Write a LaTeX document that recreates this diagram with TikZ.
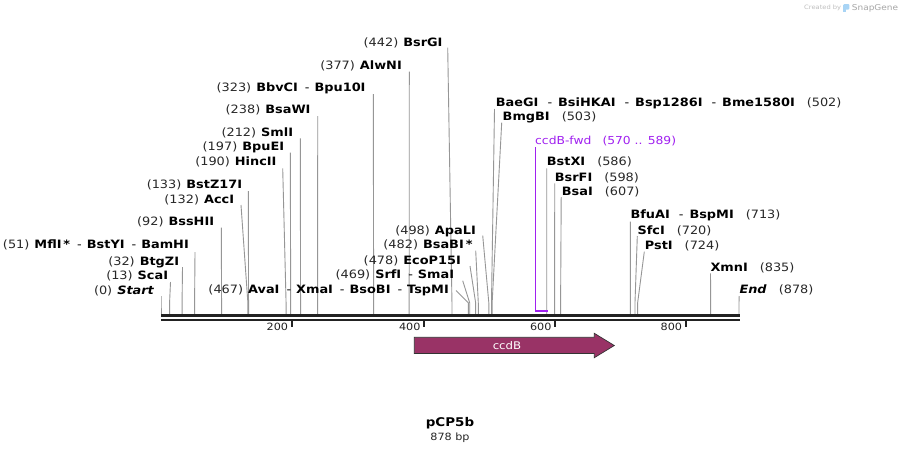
\documentclass[tikz,border=0pt]{standalone}
\usepackage{fontspec}
\setmainfont{DejaVu Sans}[FakeStretch=1.12]
\definecolor{numc}{RGB}{40,40,40}
\definecolor{cutc}{RGB}{150,150,150}
\definecolor{primc}{RGB}{160,32,240}
\definecolor{featc}{RGB}{153,51,102}
\definecolor{axisc}{RGB}{34,34,34}
\definecolor{iconc}{RGB}{168,212,245}
\newcommand{\pl}[1]{{\color{numc}(#1)}}
\newcommand{\en}[1]{\textbf{#1}}
\newcommand{\dsh}{\hspace{7pt}-\hspace{5pt}}
\newcommand{\dshw}{\hspace{9pt}-\hspace{6pt}}
\newcommand{\gapl}{\hspace{5pt}}
\newcommand{\gapr}{\hspace{12pt}}
\tikzset{
  lbl/.style={inner sep=0pt, font=\fontsize{11.5}{13}\selectfont},
  cutline/.style={draw=cutc, line width=0.9pt},
  axisline/.style={draw=axisc, line width=2.3pt},
  tickmark/.style={draw=axisc, line width=2pt},
  ticklbl/.style={inner sep=0pt, font=\fontsize{10}{12}\selectfont, text=axisc},
  primline/.style={draw=primc, line width=1pt},
  primlbl/.style={inner sep=0pt, font=\fontsize{11}{13}\selectfont, text=primc},
}
\newcommand{\cutsite}[8]{%
  \node[lbl, anchor=#2] (#1) at (#3,#4) {#5};
  \coordinate (#1s) at (#6,#7);
  \coordinate (#1k) at ({161+0.6583*#8},303);
  \coordinate (#1a) at ({161+0.6583*#8},314.3);
  \draw[cutline] (#1s) -- (#1k) -- (#1a);
}
\begin{document}
\begin{tikzpicture}[x=1pt,y=-1pt]
\fill[white] (0,0) rectangle (901,453);
\useasboundingbox (0,0) rectangle (901,453);

% left-side labels
\cutsite{start}{base east}{154.5}{294}{\pl{0}\gapl\en{\textit{Start}}}{161}{296}{0}
\cutsite{scai}{base east}{168.3}{279.3}{\pl{13}\gapl\en{ScaI}}{170.5}{282}{13}
\cutsite{btgzi}{base east}{179.3}{265}{\pl{32}\gapl\en{BtgZI}}{182.5}{267}{32}
\cutsite{bamhi}{base east}{189}{248.5}{\pl{51}\gapl\en{MflI\,*}\dsh\en{BstYI}\dsh\en{BamHI}}{195}{252}{51}
\cutsite{bsshii}{base east}{214.3}{225.7}{\pl{92}\gapl\en{BssHII}}{221.3}{227.5}{92}
\cutsite{acci}{base east}{234.3}{203.3}{\pl{132}\gapl\en{AccI}}{241}{205}{132}
\cutsite{bstz}{base east}{242.3}{188.5}{\pl{133}\gapl\en{BstZ17I}}{248.3}{191}{133}
\cutsite{hincii}{base east}{276.7}{165.7}{\pl{190}\gapl\en{HincII}}{282.7}{168.3}{190}
\cutsite{bpuei}{base east}{284.3}{150.7}{\pl{197}\gapl\en{BpuEI}}{290.3}{152.5}{197}
\cutsite{smli}{base east}{293.3}{136}{\pl{212}\gapl\en{SmlI}}{300.3}{138.3}{212}
\cutsite{bsawi}{base east}{310.7}{113.5}{\pl{238}\gapl\en{BsaWI}}{317.7}{116}{238}
\cutsite{bbvci}{base east}{365.7}{91}{\pl{323}\gapl\en{BbvCI}\dsh\en{Bpu10I}}{373.3}{94}{323}
\cutsite{alwni}{base east}{402}{69}{\pl{377}\gapl\en{AlwNI}}{409.3}{71.7}{377}
\cutsite{bsrgi}{base east}{442.7}{46}{\pl{442}\gapl\en{BsrGI}}{447.7}{47.7}{442}
\cutsite{tspmi}{base east}{449}{293.5}{\pl{467}\gapl\en{AvaI}\dsh\en{XmaI}\dsh\en{BsoBI}\dsh\en{TspMI}}{456}{290.5}{467}
\cutsite{smai}{base east}{454.3}{278.3}{\pl{469}\gapl\en{SrfI}\dsh\en{SmaI}}{462.7}{280.7}{469}
\cutsite{ecop}{base east}{461}{264}{\pl{478}\gapl\en{EcoP15I}}{470}{266}{478}
\cutsite{bsabi}{base east}{472.7}{248.3}{\pl{482}\gapl\en{BsaBI\,*}}{475.7}{250.7}{482}
\cutsite{apali}{base east}{476}{234}{\pl{498}\gapl\en{ApaLI}}{482.7}{235.5}{498}

% right-side labels
\cutsite{baegi}{base west}{495.7}{106}{\en{BaeGI}\dshw\en{BsiHKAI}\dshw\en{Bsp1286I}\dshw\en{Bme1580I}\gapr\pl{502}}{494.5}{109}{502}
\cutsite{bmgbi}{base west}{502.5}{120.7}{\en{BmgBI}\gapr\pl{503}}{501.7}{122.7}{503}
\cutsite{bstxi}{base west}{546.7}{165.3}{\en{BstXI}\gapr\pl{586}}{546.7}{168.3}{586}
\cutsite{bsrfi}{base west}{554.7}{181}{\en{BsrFI}\gapr\pl{598}}{554.7}{183.3}{598}
\cutsite{bsai}{base west}{561.7}{195}{\en{BsaI}\gapr\pl{607}}{561.2}{197}{607}
\cutsite{bfuai}{base west}{630.3}{218.3}{\en{BfuAI}\dshw\en{BspMI}\gapr\pl{713}}{630.3}{221.7}{713}
\cutsite{sfci}{base west}{637.3}{234}{\en{SfcI}\gapr\pl{720}}{637.3}{236}{720}
\cutsite{psti}{base west}{644.7}{249}{\en{PstI}\gapr\pl{724}}{644.3}{251.7}{724}
\cutsite{xmni}{base west}{710.3}{271.7}{\en{XmnI}\gapr\pl{835}}{710.5}{273.3}{835}
\cutsite{end}{base west}{739.3}{293.3}{\en{\textit{End}}\gapr\pl{878}}{739.2}{296}{878}

% primer
\node[primlbl, anchor=base west] (ccdbfwd) at (535,144) {ccdB-fwd\hspace{11pt}(570 .. 589)};
\coordinate (pfs) at (535.5,147);
\coordinate (pfb) at (535.5,310.5);
\draw[primline] (pfs) -- (pfb);
\coordinate (pbl) at (535,310.7);
\coordinate (pbr) at (548,310.7);
\draw[primc, line width=2pt] (pbl) -- (pbr);

% axis
\coordinate (ax1l) at (161,315.5);
\coordinate (ax1r) at (739.5,315.5);
\coordinate (ax2l) at (161,319.7);
\coordinate (ax2r) at (739.5,319.7);
\draw[axisline] (ax1l) -- (ax1r);
\draw[axisline] (ax2l) -- (ax2r);
\foreach \tx/\tl in {291.7/200, 424/400, 555/600, 685.7/800}{
  \draw[tickmark] (\tx,320.5) -- (\tx,327);
  \node[ticklbl, anchor=base east] (tick\tl) at (\tx-3.4,330.5) {\tl};
}

% feature
\draw[fill=featc, draw=black!80, line width=0.7pt]
  (414.3,337.3) -- (594.3,337.3) -- (594.3,333.3) -- (614.3,345.5)
  -- (594.3,357.7) -- (594.3,353.5) -- (414.3,353.5) -- cycle;
\node[inner sep=0pt, text=white, font=\fontsize{10.5}{12}\selectfont] (ccdb) at (507,345.3) {ccdB};

% title
\node[inner sep=0pt, anchor=base, font=\bfseries\fontsize{12}{14}\selectfont] (title) at (450,426.7) {pCP5b};
\node[inner sep=0pt, anchor=base, font=\fontsize{10}{12}\selectfont, text=black!85] (len) at (450,440.7) {878 bp};

% watermark
\node[inner sep=0pt, anchor=base west, text=black!25, font=\fontsize{6}{7}\selectfont] (wm1) at (804,9.6) {Created by};
\fill[iconc, rounded corners=1pt] (843.3,4) rectangle (849.3,9.5);
\fill[iconc] (843.3,5) rectangle (846,12);
\node[inner sep=0pt, anchor=base west, text=black!35, font=\fontsize{8}{9}\selectfont] (wm2) at (851.7,10.4) {SnapGene};
\end{tikzpicture}
\end{document}
